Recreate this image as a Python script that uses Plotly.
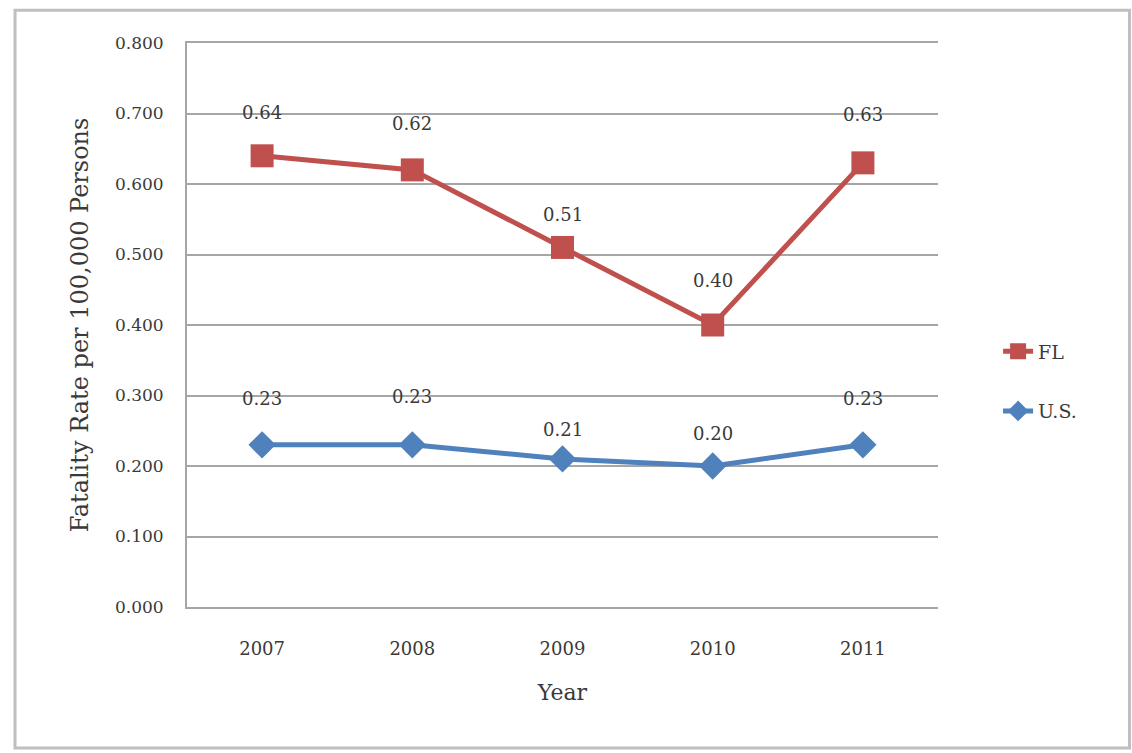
import plotly.graph_objects as go

# Fatality rates per 100,000 persons, 2007-2011
years = ["2007", "2008", "2009", "2010", "2011"]
fl_rates = [0.64, 0.62, 0.51, 0.40, 0.63]
us_rates = [0.23, 0.23, 0.21, 0.20, 0.23]
y_ticks = [0.0, 0.1, 0.2, 0.3, 0.4, 0.5, 0.6, 0.7, 0.8]

RED = "#C0504D"
BLUE = "#4F81BD"
FONT = "DejaVu Serif"
TEXT = "#3a3a3a"

fig = go.Figure()
fig.add_trace(go.Scatter(
    x=years, y=fl_rates, name="FL", mode="lines+markers",
    line=dict(color=RED, width=5),
    marker=dict(symbol="square", size=23, color=RED),
    legendgroup="fl",
))
fig.add_trace(go.Scatter(
    x=years, y=us_rates, name="U.S.", mode="lines+markers",
    line=dict(color=BLUE, width=5),
    marker=dict(symbol="diamond", size=21, color=BLUE),
    legendgroup="us",
))

# value labels above each point (x given as category index)
fl_shift = [43, 46, 33, 45, 48]
us_shift = [46, 48, 29, 33, 46]
for ys, shifts in ((fl_rates, fl_shift), (us_rates, us_shift)):
    for i, (yv, s) in enumerate(zip(ys, shifts)):
        fig.add_annotation(
            x=i, y=yv, xref="x", yref="y", text=f"{yv:.2f}",
            showarrow=False, yshift=s,
            font=dict(family=FONT, size=18, color=TEXT),
        )

# outer chart frame
fig.add_shape(
    type="rect", xref="paper", yref="paper",
    x0=-0.229, x1=1.255, y0=-0.25, y1=1.058,
    line=dict(color="#BFBFBF", width=3), layer="below",
)

fig.update_layout(
    width=1132, height=753,
    margin=dict(l=187, r=194, t=43, b=146),
    paper_bgcolor="white", plot_bgcolor="white",
    font=dict(family=FONT, size=17, color=TEXT),
    xaxis=dict(
        type="category", range=[-0.5, 4.5],
        showline=True, mirror=True, linecolor="#A6A6A6", linewidth=2,
        showgrid=False, ticks="", tickfont=dict(size=18),
        ticklabelstandoff=24,
        title=dict(text="Year", font=dict(size=22), standoff=27),
    ),
    yaxis=dict(
        range=[0, 0.8], tickvals=y_ticks, tickformat=".3f",
        showline=True, mirror=False, linecolor="#A6A6A6", linewidth=2,
        showgrid=True, gridcolor="#A6A6A6", gridwidth=2, zeroline=False,
        ticks="", tickfont=dict(size=17), ticklabelstandoff=18,
        title=dict(text="Fatality Rate per 100,000 Persons",
                   font=dict(size=24), standoff=20),
    ),
    legend=dict(
        x=1.08, y=0.40, xanchor="left", yanchor="middle",
        font=dict(family=FONT, size=19, color=TEXT),
        tracegroupgap=32, bgcolor="rgba(0,0,0,0)",
    ),
    showlegend=True,
)

fig.write_html("out.html")
